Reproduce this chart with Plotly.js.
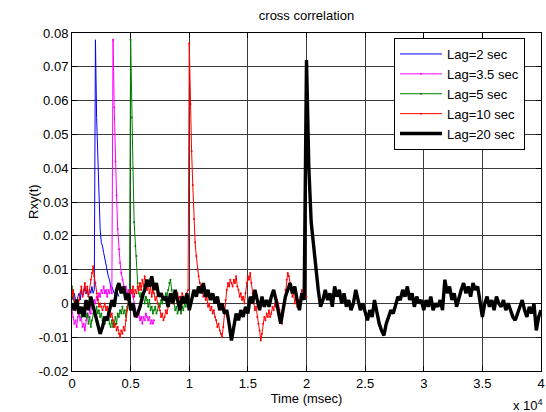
<!DOCTYPE html>
<html><head><meta charset="utf-8">
<script src="https://cdn.plot.ly/plotly-3.0.1.min.js"></script>
<style>html,body{margin:0;padding:0;background:#fff;} #chart{width:546px;height:412px;}</style>
</head><body><div id="chart"></div>
<script>
// sample spacing (msec) of each series
const lag2Step = 100, lag35Step = 100, lag5Step = 100, lag10Step = 100, lag20Step = 200;

const lag2Vals = [0.002,0.001,0.003,0.001,-0.001,0.002,0.003,0.001,0.004,0.002,
 0.003,0.005,0.003,0.004,0.002,0.004,0.003,0.005,0.003,0.004,
 0.078,0.055,0.043,0.033,0.022,0.018,0.017,0.015,0.013,0.011,
 0.009,0.008,0.007,0.005,0.005,0.004,0.003,0.003,0.002,0.003,0.002];

const lag35Vals = [-0.002,-0.004,-0.006,-0.005,-0.007,-0.004,-0.003,-0.005,-0.004,-0.007,
 -0.006,-0.008,-0.005,-0.003,-0.004,-0.002,-0.003,0.000,-0.001,0.001,
 0.000,0.002,0.001,0.003,0.002,0.004,0.003,0.005,0.003,0.004,
 0.002,0.004,0.003,0.005,0.003,0.078,0.058,0.042,0.032,0.022,
 0.016,0.012,0.009,0.007,0.005,0.004,0.005,0.003,0.004,0.002,
 0.003,0.004,0.002,0.000,-0.002,-0.003,-0.004,-0.003,-0.005,-0.004,
 -0.006,-0.004,-0.005,-0.003,-0.004,-0.005,-0.004,-0.006,-0.005,-0.006,
 -0.005];

const lag5Vals = [0.005,0.002,0.000,-0.002,0.001,-0.001,-0.003,-0.002,-0.004,-0.002,
 -0.003,-0.001,-0.004,-0.003,-0.006,-0.004,-0.007,-0.005,-0.003,-0.002,
 -0.004,-0.001,-0.003,-0.002,-0.004,-0.003,-0.005,-0.004,-0.006,-0.004,
 -0.005,-0.003,-0.006,-0.007,-0.005,-0.007,-0.006,-0.004,-0.006,-0.003,
 -0.004,-0.002,-0.003,-0.001,-0.003,-0.002,-0.004,-0.001,0.000,0.002,
 0.078,0.055,0.040,0.024,0.017,0.014,0.006,0.003,0.002,0.003,
 0.001,0.002,0.000,0.002,0.001,-0.001,0.001,-0.002,-0.001,-0.003,
 -0.002,-0.001,-0.003,-0.002,0.000,-0.001,0.001,0.000,0.002,0.001,
 0.003,0.002,0.004,0.006,0.007,0.004,0.002,0.000,-0.002,-0.001,
 -0.003,-0.002,-0.001,-0.003,-0.001,-0.002,0.000,-0.001,0.001,0.000,
 0.001];

const lag10Vals = [0.002,0.004,0.001,-0.002,0.000,-0.003,0.001,0.003,0.005,0.002,
 0.004,0.006,0.003,0.005,0.002,0.004,0.007,0.009,0.011,0.008,
 0.006,0.003,0.001,-0.001,0.000,-0.001,-0.002,-0.001,0.000,-0.002,
 -0.001,-0.003,-0.002,-0.004,-0.003,-0.005,-0.007,-0.006,-0.008,-0.007,
 -0.009,-0.010,-0.008,-0.009,-0.007,-0.008,-0.005,-0.002,0.001,0.003,
 0.004,0.003,0.005,0.002,0.004,0.003,0.005,0.004,0.006,0.004,
 0.007,0.005,0.008,0.006,0.004,0.006,0.003,0.005,0.002,0.004,
 0.003,0.001,0.002,0.000,-0.001,-0.002,-0.004,-0.003,-0.005,-0.004,
 -0.002,-0.003,-0.001,0.000,0.001,0.002,0.000,0.001,0.002,0.001,
 0.003,0.001,0.002,0.001,0.003,0.002,0.001,0.002,0.003,0.004,
 0.077,0.059,0.045,0.035,0.025,0.018,0.014,0.010,0.008,0.006,
 0.005,0.004,0.002,0.003,0.001,0.002,-0.001,0.000,-0.002,-0.001,
 -0.003,-0.002,-0.004,-0.005,-0.007,-0.006,-0.008,-0.009,-0.010,-0.007,
 -0.003,0.001,0.004,0.006,0.005,0.007,0.006,0.005,0.007,0.006,
 0.008,0.005,0.004,0.002,0.003,0.001,0.002,0.000,0.003,0.006,
 0.008,0.007,0.009,0.006,0.003,0.000,-0.002,-0.001,-0.004,-0.006,
 -0.008,-0.011,-0.009,-0.006,-0.004,-0.005,-0.003,-0.004,-0.002,-0.004,
 -0.003,-0.001,-0.002,0.000,-0.001,0.001,0.000,-0.002,-0.004,-0.006,
 -0.003,0.000,0.004,0.007,0.009,0.008,0.006,0.004,0.002,0.003,
 0.000,0.002,-0.001,0.001,0.000,0.002,0.004,0.002,0.005,0.003,
 0.002];

const lag20Vals = [0.000,-0.002,0.001,-0.003,-0.001,-0.004,0.001,-0.002,0.002,-0.001,
 -0.003,-0.006,-0.009,-0.007,-0.004,-0.005,-0.002,0.001,-0.001,0.004,
 0.006,0.003,0.005,0.001,0.003,-0.002,0.000,-0.004,-0.003,-0.001,
 0.002,0.004,0.007,0.005,0.008,0.004,0.006,0.002,0.003,0.001,
 0.002,-0.001,0.003,0.000,0.004,0.001,-0.002,0.002,0.000,0.003,
 -0.002,0.001,0.004,0.002,0.005,0.003,0.006,0.002,0.004,0.001,
 0.003,0.000,0.002,-0.002,0.000,-0.003,-0.002,-0.006,-0.011,-0.007,
 -0.003,-0.005,-0.002,-0.004,-0.001,-0.003,0.002,0.000,0.004,0.001,
 -0.002,0.002,-0.001,0.001,-0.001,0.002,0.004,0.001,-0.003,-0.006,
 -0.002,0.002,0.004,0.006,0.003,0.005,0.001,-0.002,0.003,0.001,
 0.072,0.040,0.024,0.017,0.011,0.004,-0.001,0.001,0.004,0.001,
 0.003,-0.001,0.005,0.002,0.004,0.000,0.003,-0.001,0.001,-0.002,
 0.000,0.004,0.001,-0.002,0.000,-0.003,-0.005,-0.002,-0.004,0.001,
 -0.003,-0.006,-0.008,-0.0095,-0.006,-0.004,-0.002,-0.003,0.000,0.002,
 0.001,0.004,0.002,0.005,0.001,0.003,-0.001,0.002,0.000,0.001,
 -0.002,0.001,-0.001,0.002,-0.002,0.000,-0.001,0.001,-0.002,0.007,
 0.003,0.005,0.001,0.003,-0.001,0.002,0.004,0.006,0.003,0.005,
 0.002,0.006,0.004,0.005,0.001,-0.004,0.000,0.002,-0.001,0.001,
 -0.002,0.002,0.000,-0.001,0.001,-0.002,0.000,-0.002,-0.004,-0.005,
 -0.003,-0.001,0.001,-0.002,-0.004,-0.001,-0.003,0.000,-0.008,-0.004,
 -0.002];

const seriesNames = ['Lag=2 sec','Lag=3.5 sec','Lag=5 sec','Lag=10 sec','Lag=20 sec'];
const xTickVals = [0,5000,10000,15000,20000,25000,30000,35000,40000];
const xTickText = ['0','0.5','1','1.5','2','2.5','3','3.5','4'];
const yTickVals = [-0.02,-0.01,0,0.01,0.02,0.03,0.04,0.05,0.06,0.07,0.08];
const yTickText = ['-0.02','-0.01','0','0.01','0.02','0.03','0.04','0.05','0.06','0.07','0.08'];

const FONT = '"Liberation Sans", Arial, Helvetica, sans-serif';
function times(vals, step){ return vals.map((_, i) => i * step); }

const traces = [
  {name: seriesNames[0], x: times(lag2Vals, lag2Step), y: lag2Vals, type:'scatter', mode:'lines',
   line:{color:'#0000ff', width:1}},
  {name: seriesNames[1], x: times(lag35Vals, lag35Step), y: lag35Vals, type:'scatter', mode:'lines+markers',
   line:{color:'#ff00ff', width:1}, marker:{color:'#ff00ff', size:2}},
  {name: seriesNames[2], x: times(lag5Vals, lag5Step), y: lag5Vals, type:'scatter', mode:'lines+markers',
   line:{color:'#008000', width:1}, marker:{color:'#008000', size:2}},
  {name: seriesNames[3], x: times(lag10Vals, lag10Step), y: lag10Vals, type:'scatter', mode:'lines+markers',
   line:{color:'#ff0000', width:1}, marker:{color:'#ff0000', size:2}},
  {name: seriesNames[4], x: times(lag20Vals, lag20Step), y: lag20Vals, type:'scatter', mode:'lines',
   line:{color:'#000000', width:3.4}}
];

const axisCommon = {
  showgrid:true, gridcolor:'#3a3a3a', gridwidth:1,
  ticks:'inside', ticklen:5, tickcolor:'#000', tickwidth:1,
  showline:true, linecolor:'#000', linewidth:1, mirror:'ticks',
  zeroline:false, tickfont:{family:FONT, size:13, color:'#000'}, fixedrange:true
};

const layout = {
  width:546, height:412,
  margin:{l:72, r:5, t:33, b:41, pad:0},
  paper_bgcolor:'#fff', plot_bgcolor:'#fff',
  font:{family:FONT, size:13, color:'#000'},
  showlegend:true,
  title:{text:'cross correlation', x:306.5/546, xanchor:'center', xref:'container',
         y:(412-15)/412, yanchor:'middle', yref:'container', font:{family:FONT, size:13, color:'#000'}},
  xaxis:Object.assign({}, axisCommon, {range:[0,40000], tickmode:'array', tickvals:xTickVals, ticktext:xTickText,
         title:{text:'Time (msec)', standoff:3, font:{family:FONT, size:13, color:'#000'}}}),
  yaxis:Object.assign({}, axisCommon, {range:[-0.02,0.08], tickmode:'array', tickvals:yTickVals, ticktext:yTickText}),
  legend:{x:(394-72)/469, y:(371-38)/338, xanchor:'left', yanchor:'top',
          bordercolor:'#000', borderwidth:1, bgcolor:'#fff', itemwidth:42,
          font:{family:FONT, size:13, color:'#000'}},
  annotations:[
    {text:'Rxy(t)', textangle:-90, xref:'paper', yref:'paper', x:(33-72)/469, y:0.5,
     xanchor:'center', yanchor:'middle', showarrow:false, font:{family:FONT, size:13, color:'#000'}},
    {text:'x 10<sup>4</sup>', xref:'paper', yref:'paper', x:(511-72)/469, y:(371-405)/338,
     xanchor:'left', yanchor:'middle', showarrow:false, font:{family:FONT, size:13, color:'#000'}}
  ]
};

Plotly.newPlot('chart', traces, layout, {displayModeBar:false, staticPlot:true});
</script></body></html>
